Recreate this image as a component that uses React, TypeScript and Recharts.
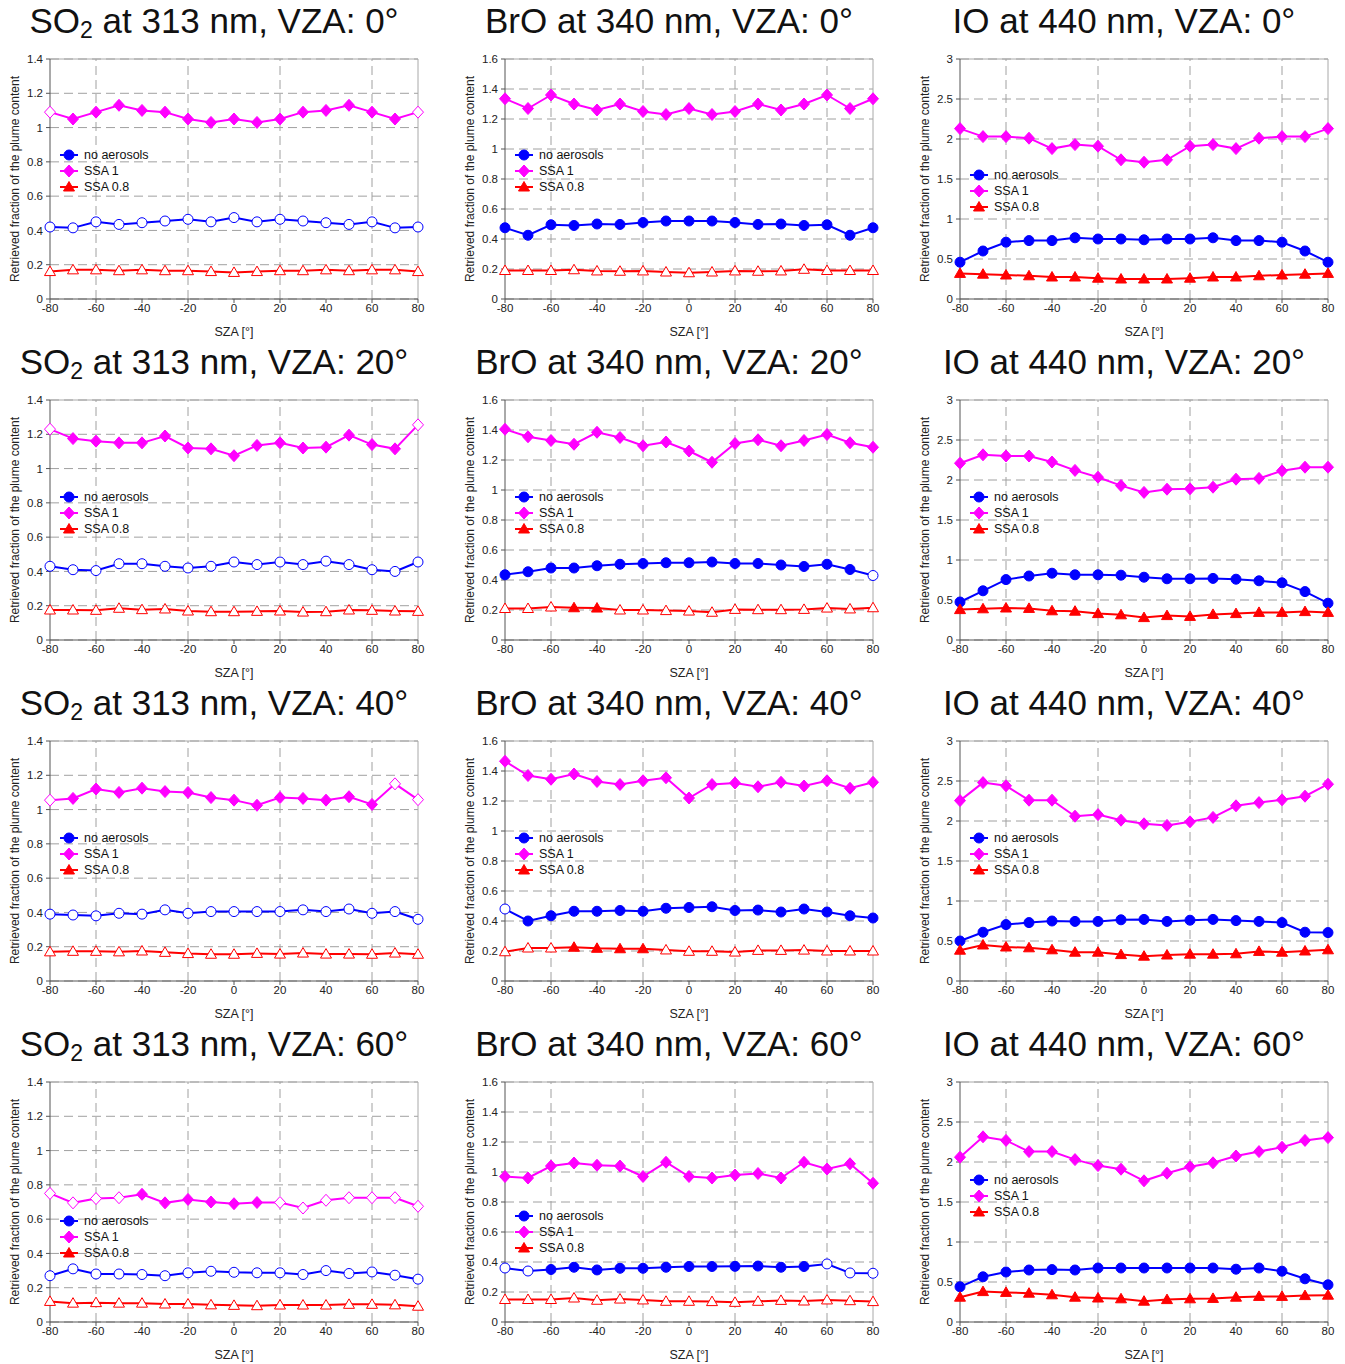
import React from "react";
import {
  LineChart, Line, XAxis, YAxis, CartesianGrid, ReferenceLine, Legend
} from "recharts";

const sza = [-80, -70, -60, -50, -40, -30, -20, -10, 0, 10, 20, 30, 40, 50, 60, 70, 80];
const szaTicks = [-80, -60, -40, -20, 0, 20, 40, 60, 80];
const szaGrid = [-60, -20, 20, 60];

const so2Ticks = [0, 0.2, 0.4, 0.6, 0.8, 1, 1.2, 1.4];
const broTicks = [0, 0.2, 0.4, 0.6, 0.8, 1, 1.2, 1.4, 1.6];
const ioTicks = [0, 0.5, 1, 1.5, 2, 2.5, 3];

// SO2 at 313 nm
const so2Vza0None = [0.42, 0.415, 0.45, 0.435, 0.445, 0.455, 0.465, 0.45, 0.475, 0.45, 0.465, 0.455, 0.445, 0.435, 0.45, 0.415, 0.42];
const so2Vza0Ssa1 = [1.09, 1.05, 1.09, 1.13, 1.1, 1.09, 1.05, 1.03, 1.05, 1.03, 1.05, 1.09, 1.1, 1.13, 1.09, 1.05, 1.09];
const so2Vza0Ssa08 = [0.16, 0.17, 0.17, 0.165, 0.17, 0.165, 0.165, 0.16, 0.155, 0.16, 0.165, 0.165, 0.17, 0.165, 0.17, 0.17, 0.16];

const so2Vza20None = [0.43, 0.41, 0.405, 0.445, 0.445, 0.43, 0.42, 0.43, 0.455, 0.44, 0.455, 0.44, 0.46, 0.44, 0.41, 0.4, 0.455];
const so2Vza20Ssa1 = [1.23, 1.175, 1.16, 1.15, 1.15, 1.19, 1.12, 1.115, 1.075, 1.135, 1.15, 1.12, 1.125, 1.195, 1.14, 1.115, 1.255];
const so2Vza20Ssa08 = [0.175, 0.175, 0.173, 0.185, 0.177, 0.181, 0.169, 0.165, 0.165, 0.167, 0.169, 0.163, 0.165, 0.175, 0.173, 0.169, 0.167];

const so2Vza40None = [0.39, 0.385, 0.38, 0.395, 0.39, 0.415, 0.395, 0.405, 0.405, 0.405, 0.405, 0.415, 0.405, 0.42, 0.395, 0.405, 0.36];
const so2Vza40Ssa1 = [1.055, 1.065, 1.12, 1.1, 1.125, 1.105, 1.1, 1.07, 1.055, 1.025, 1.07, 1.065, 1.055, 1.075, 1.03, 1.15, 1.058];
const so2Vza40Ssa08 = [0.17, 0.173, 0.173, 0.17, 0.175, 0.167, 0.16, 0.156, 0.156, 0.161, 0.157, 0.163, 0.157, 0.157, 0.156, 0.163, 0.156];

const so2Vza60None = [0.27, 0.31, 0.28, 0.28, 0.277, 0.27, 0.287, 0.296, 0.29, 0.287, 0.287, 0.277, 0.3, 0.283, 0.292, 0.273, 0.25];
const so2Vza60Ssa1 = [0.75, 0.695, 0.72, 0.725, 0.745, 0.695, 0.715, 0.7, 0.69, 0.697, 0.697, 0.665, 0.71, 0.725, 0.725, 0.725, 0.675];
const so2Vza60Ssa08 = [0.12, 0.11, 0.113, 0.11, 0.11, 0.105, 0.105, 0.1, 0.097, 0.095, 0.099, 0.099, 0.099, 0.103, 0.103, 0.1, 0.092];

// BrO at 340 nm
const broVza0None = [0.475, 0.425, 0.495, 0.49, 0.5, 0.497, 0.51, 0.52, 0.52, 0.52, 0.51, 0.497, 0.5, 0.49, 0.495, 0.425, 0.475];
const broVza0Ssa1 = [1.335, 1.27, 1.36, 1.3, 1.26, 1.3, 1.25, 1.23, 1.27, 1.23, 1.25, 1.3, 1.26, 1.3, 1.36, 1.27, 1.335];
const broVza0Ssa08 = [0.19, 0.19, 0.19, 0.195, 0.187, 0.185, 0.187, 0.18, 0.175, 0.18, 0.187, 0.185, 0.187, 0.198, 0.19, 0.19, 0.19];

const broVza20None = [0.435, 0.455, 0.48, 0.48, 0.495, 0.505, 0.51, 0.515, 0.515, 0.52, 0.51, 0.51, 0.5, 0.49, 0.505, 0.47, 0.43];
const broVza20Ssa1 = [1.405, 1.355, 1.33, 1.305, 1.385, 1.35, 1.295, 1.32, 1.26, 1.185, 1.31, 1.335, 1.295, 1.33, 1.37, 1.315, 1.285];
const broVza20Ssa08 = [0.21, 0.21, 0.22, 0.215, 0.213, 0.2, 0.2, 0.196, 0.193, 0.185, 0.204, 0.202, 0.202, 0.204, 0.213, 0.207, 0.215];

const broVza40None = [0.48, 0.4, 0.435, 0.465, 0.465, 0.47, 0.465, 0.485, 0.49, 0.495, 0.47, 0.473, 0.46, 0.48, 0.46, 0.435, 0.42];
const broVza40Ssa1 = [1.465, 1.37, 1.345, 1.38, 1.33, 1.31, 1.335, 1.355, 1.22, 1.31, 1.32, 1.295, 1.325, 1.3, 1.335, 1.285, 1.325];
const broVza40Ssa08 = [0.195, 0.22, 0.22, 0.225, 0.218, 0.215, 0.215, 0.207, 0.198, 0.198, 0.193, 0.204, 0.204, 0.206, 0.2, 0.2, 0.2];

const broVza60None = [0.36, 0.34, 0.35, 0.365, 0.347, 0.358, 0.358, 0.365, 0.37, 0.37, 0.371, 0.373, 0.365, 0.37, 0.387, 0.327, 0.325];
const broVza60Ssa1 = [0.97, 0.96, 1.04, 1.06, 1.045, 1.04, 0.97, 1.065, 0.97, 0.96, 0.98, 0.99, 0.96, 1.065, 1.02, 1.055, 0.925];
const broVza60Ssa08 = [0.15, 0.15, 0.15, 0.16, 0.145, 0.153, 0.147, 0.138, 0.138, 0.136, 0.131, 0.138, 0.144, 0.14, 0.147, 0.142, 0.136];

// IO at 440 nm
const ioVza0None = [0.46, 0.6, 0.71, 0.73, 0.73, 0.765, 0.75, 0.75, 0.74, 0.75, 0.75, 0.765, 0.73, 0.73, 0.71, 0.6, 0.46];
const ioVza0Ssa1 = [2.13, 2.03, 2.03, 2.01, 1.88, 1.93, 1.91, 1.74, 1.71, 1.74, 1.91, 1.93, 1.88, 2.01, 2.03, 2.03, 2.13];
const ioVza0Ssa08 = [0.32, 0.31, 0.3, 0.29, 0.275, 0.275, 0.26, 0.25, 0.25, 0.25, 0.26, 0.275, 0.275, 0.29, 0.3, 0.31, 0.32];

const ioVza20None = [0.475, 0.615, 0.755, 0.8, 0.835, 0.815, 0.815, 0.81, 0.785, 0.765, 0.765, 0.77, 0.76, 0.74, 0.715, 0.605, 0.46];
const ioVza20Ssa1 = [2.21, 2.315, 2.3, 2.3, 2.225, 2.12, 2.035, 1.93, 1.845, 1.885, 1.89, 1.91, 2.01, 2.02, 2.115, 2.16, 2.16];
const ioVza20Ssa08 = [0.38, 0.39, 0.4, 0.395, 0.365, 0.36, 0.33, 0.315, 0.28, 0.305, 0.295, 0.32, 0.33, 0.345, 0.345, 0.355, 0.345];

const ioVza40None = [0.5, 0.61, 0.705, 0.73, 0.75, 0.745, 0.745, 0.765, 0.77, 0.745, 0.76, 0.77, 0.755, 0.745, 0.73, 0.61, 0.605];
const ioVza40Ssa1 = [2.255, 2.48, 2.44, 2.26, 2.26, 2.06, 2.08, 2.01, 1.965, 1.945, 1.99, 2.045, 2.19, 2.23, 2.265, 2.31, 2.46];
const ioVza40Ssa08 = [0.385, 0.45, 0.425, 0.415, 0.39, 0.36, 0.36, 0.33, 0.31, 0.325, 0.335, 0.335, 0.34, 0.37, 0.36, 0.375, 0.39];

const ioVza60None = [0.44, 0.565, 0.625, 0.65, 0.655, 0.65, 0.675, 0.675, 0.675, 0.675, 0.675, 0.675, 0.66, 0.675, 0.635, 0.54, 0.465];
const ioVza60Ssa1 = [2.06, 2.315, 2.27, 2.13, 2.13, 2.03, 1.955, 1.91, 1.765, 1.86, 1.94, 1.99, 2.075, 2.13, 2.185, 2.27, 2.305];
const ioVza60Ssa08 = [0.31, 0.38, 0.37, 0.36, 0.34, 0.31, 0.3, 0.29, 0.26, 0.28, 0.29, 0.295, 0.31, 0.32, 0.32, 0.33, 0.335];

// SZA values drawn with open (white) markers
const none: number[] = [];
const allOpen = sza;
const broVza20Ssa08Open = [-80, -70, -60, -30, -20, -10, 0, 10, 20, 30, 40, 50, 60, 70, 80];
const broVza40Ssa08Open = [-80, -70, -60, -10, 0, 10, 20, 30, 40, 50, 60, 70, 80];
const so2Vza60Ssa1Open = [-80, -70, -60, -50, 20, 30, 40, 50, 60, 70, 80];
const broVza60NoneOpen = [-80, -70, 60, 70, 80];

const BLUE = "#0000ff";
const MAGENTA = "#ff00ff";
const RED = "#ff0000";
const FONT = '"Liberation Sans", Arial, Helvetica, sans-serif';

const seriesDefs = [
  { key: "none", name: "no aerosols", color: BLUE, shape: "circle" },
  { key: "ssa1", name: "SSA 1", color: MAGENTA, shape: "diamond" },
  { key: "ssa08", name: "SSA 0.8", color: RED, shape: "triangle" },
];

type Panel = {
  gas: string; sub?: string; rest: string;
  col: number; row: number; ticks: number[];
  none: number[]; ssa1: number[]; ssa08: number[];
  open: [number[], number[], number[]];
  legendTop: number;
};

const panels: Panel[] = [
  { gas: "SO", sub: "2", rest: " at 313 nm, VZA: 0°", col: 0, row: 0, ticks: so2Ticks, none: so2Vza0None, ssa1: so2Vza0Ssa1, ssa08: so2Vza0Ssa08, open: [allOpen, [-80, 80], allOpen], legendTop: 147 },
  { gas: "BrO", rest: " at 340 nm, VZA: 0°", col: 1, row: 0, ticks: broTicks, none: broVza0None, ssa1: broVza0Ssa1, ssa08: broVza0Ssa08, open: [none, none, allOpen], legendTop: 147 },
  { gas: "IO", rest: " at 440 nm, VZA: 0°", col: 2, row: 0, ticks: ioTicks, none: ioVza0None, ssa1: ioVza0Ssa1, ssa08: ioVza0Ssa08, open: [none, none, none], legendTop: 167 },
  { gas: "SO", sub: "2", rest: " at 313 nm, VZA: 20°", col: 0, row: 1, ticks: so2Ticks, none: so2Vza20None, ssa1: so2Vza20Ssa1, ssa08: so2Vza20Ssa08, open: [allOpen, [-80, 80], allOpen], legendTop: 148 },
  { gas: "BrO", rest: " at 340 nm, VZA: 20°", col: 1, row: 1, ticks: broTicks, none: broVza20None, ssa1: broVza20Ssa1, ssa08: broVza20Ssa08, open: [[80], none, broVza20Ssa08Open], legendTop: 148 },
  { gas: "IO", rest: " at 440 nm, VZA: 20°", col: 2, row: 1, ticks: ioTicks, none: ioVza20None, ssa1: ioVza20Ssa1, ssa08: ioVza20Ssa08, open: [none, none, none], legendTop: 148 },
  { gas: "SO", sub: "2", rest: " at 313 nm, VZA: 40°", col: 0, row: 2, ticks: so2Ticks, none: so2Vza40None, ssa1: so2Vza40Ssa1, ssa08: so2Vza40Ssa08, open: [allOpen, [-80, 70, 80], allOpen], legendTop: 148 },
  { gas: "BrO", rest: " at 340 nm, VZA: 40°", col: 1, row: 2, ticks: broTicks, none: broVza40None, ssa1: broVza40Ssa1, ssa08: broVza40Ssa08, open: [[-80], none, broVza40Ssa08Open], legendTop: 148 },
  { gas: "IO", rest: " at 440 nm, VZA: 40°", col: 2, row: 2, ticks: ioTicks, none: ioVza40None, ssa1: ioVza40Ssa1, ssa08: ioVza40Ssa08, open: [none, none, none], legendTop: 148 },
  { gas: "SO", sub: "2", rest: " at 313 nm, VZA: 60°", col: 0, row: 3, ticks: so2Ticks, none: so2Vza60None, ssa1: so2Vza60Ssa1, ssa08: so2Vza60Ssa08, open: [allOpen, so2Vza60Ssa1Open, allOpen], legendTop: 190 },
  { gas: "BrO", rest: " at 340 nm, VZA: 60°", col: 1, row: 3, ticks: broTicks, none: broVza60None, ssa1: broVza60Ssa1, ssa08: broVza60Ssa08, open: [broVza60NoneOpen, none, allOpen], legendTop: 185 },
  { gas: "IO", rest: " at 440 nm, VZA: 60°", col: 2, row: 3, ticks: ioTicks, none: ioVza60None, ssa1: ioVza60Ssa1, ssa08: ioVza60Ssa08, open: [none, none, none], legendTop: 149 },
];

const COL_X = [0, 455, 910];
const ROW_H = 341;

function marker(shape: string, cx: number, cy: number, color: string, hollow: boolean, key?: string) {
  const fill = hollow ? "#fff" : color;
  if (shape === "circle") {
    return <circle key={key} cx={cx} cy={cy} r={5} fill={fill} stroke={color} strokeWidth={1} />;
  }
  if (shape === "diamond") {
    return (
      <polygon key={key} fill={fill} stroke={color} strokeWidth={1}
        points={`${cx},${cy - 6} ${cx + 5.5},${cy} ${cx},${cy + 6} ${cx - 5.5},${cy}`} />
    );
  }
  return (
    <polygon key={key} fill={fill} stroke={color} strokeWidth={1}
      points={`${cx},${cy - 5.5} ${cx + 5.5},${cy + 4} ${cx - 5.5},${cy + 4}`} />
  );
}

const makeDot = (shape: string, color: string, open: number[]) => (props: any) => {
  const { cx, cy, payload, index } = props;
  const key = `${shape}-${index}`;
  if (cx == null || cy == null) return <g key={key} />;
  return marker(shape, cx, cy, color, open.includes(payload.sza), key);
};

const LegendBox = () => (
  <div style={{ fontFamily: FONT }}>
    {seriesDefs.map((s) => (
      <div key={s.key} style={{ display: "flex", alignItems: "center", height: 16 }}>
        <svg width={20} height={16} style={{ display: "block" }}>
          <line x1={0} y1={8} x2={18} y2={8} stroke={s.color} strokeWidth={2} />
          {marker(s.shape, 9, 8, s.color, false)}
        </svg>
        <span style={{ fontSize: 12.5, marginLeft: 4, color: "#111", whiteSpace: "nowrap" }}>{s.name}</span>
      </div>
    ))}
  </div>
);

const PanelChart = ({ p }: { p: Panel }) => {
  const data = sza.map((x, i) => ({ sza: x, none: p.none[i], ssa1: p.ssa1[i], ssa08: p.ssa08[i] }));
  const yMax = p.ticks[p.ticks.length - 1];
  const left = COL_X[p.col];
  const top = p.row * ROW_H;
  return (
    <div style={{ position: "absolute", left, top, width: 440, height: ROW_H }}>
      <div style={{
        position: "absolute", left: 0, top: 3, width: 428, textAlign: "center",
        fontSize: 35, lineHeight: 1, color: "#111", whiteSpace: "nowrap"
      }}>
        {p.gas}{p.sub ? <sub style={{ fontSize: 23, verticalAlign: -5, lineHeight: 0 }}>{p.sub}</sub> : null}{p.rest}
      </div>
      <div style={{
        position: "absolute", left: 15, top: 179, transform: "translate(-50%, -50%) rotate(-90deg)",
        fontSize: 12, whiteSpace: "nowrap", color: "#222"
      }}>
        Retrieved fraction of the plume content
      </div>
      <LineChart width={440} height={ROW_H} data={data} margin={{ top: 59, right: 22, bottom: 0, left: 0 }}>
        <CartesianGrid vertical={false} stroke="#a0a0a0" strokeDasharray="9 5" />
        {szaGrid.map((g) => (
          <ReferenceLine key={g} x={g} stroke="#a0a0a0" strokeDasharray="9 5" />
        ))}
        <ReferenceLine y={yMax} stroke="#a8a8a8" />
        <ReferenceLine x={80} stroke="#a8a8a8" />
        <XAxis
          dataKey="sza" type="number" domain={[-80, 80]} ticks={szaTicks} height={42}
          stroke="#555" tickSize={4} tickMargin={1}
          tick={{ fontSize: 11.5, fill: "#222" }}
          label={{ value: "SZA [°]", position: "insideBottom", offset: 5, fontSize: 12.5, fill: "#222" }}
        />
        <YAxis
          type="number" domain={[0, yMax]} ticks={p.ticks} width={50} interval={0}
          stroke="#555" tickSize={4} tickMargin={3}
          tick={{ fontSize: 11.5, fill: "#222" }}
        />
        <Legend
          layout="vertical" align="center" verticalAlign="middle"
          wrapperStyle={{ left: 60, top: p.legendTop, width: "auto", height: "auto" }}
          content={() => <LegendBox />}
        />
        {seriesDefs.map((s, i) => (
          <Line
            key={s.key} dataKey={s.key} name={s.name} stroke={s.color} strokeWidth={2}
            dot={makeDot(s.shape, s.color, p.open[i])} activeDot={false}
            isAnimationActive={false}
          />
        ))}
      </LineChart>
    </div>
  );
};

export default function App() {
  return (
    <div style={{
      position: "absolute", left: 0, top: 0, width: 1345, height: 1364,
      overflow: "hidden", background: "#fff", fontFamily: FONT
    }}>
      {panels.map((p, i) => (
        <PanelChart key={i} p={p} />
      ))}
    </div>
  );
}
